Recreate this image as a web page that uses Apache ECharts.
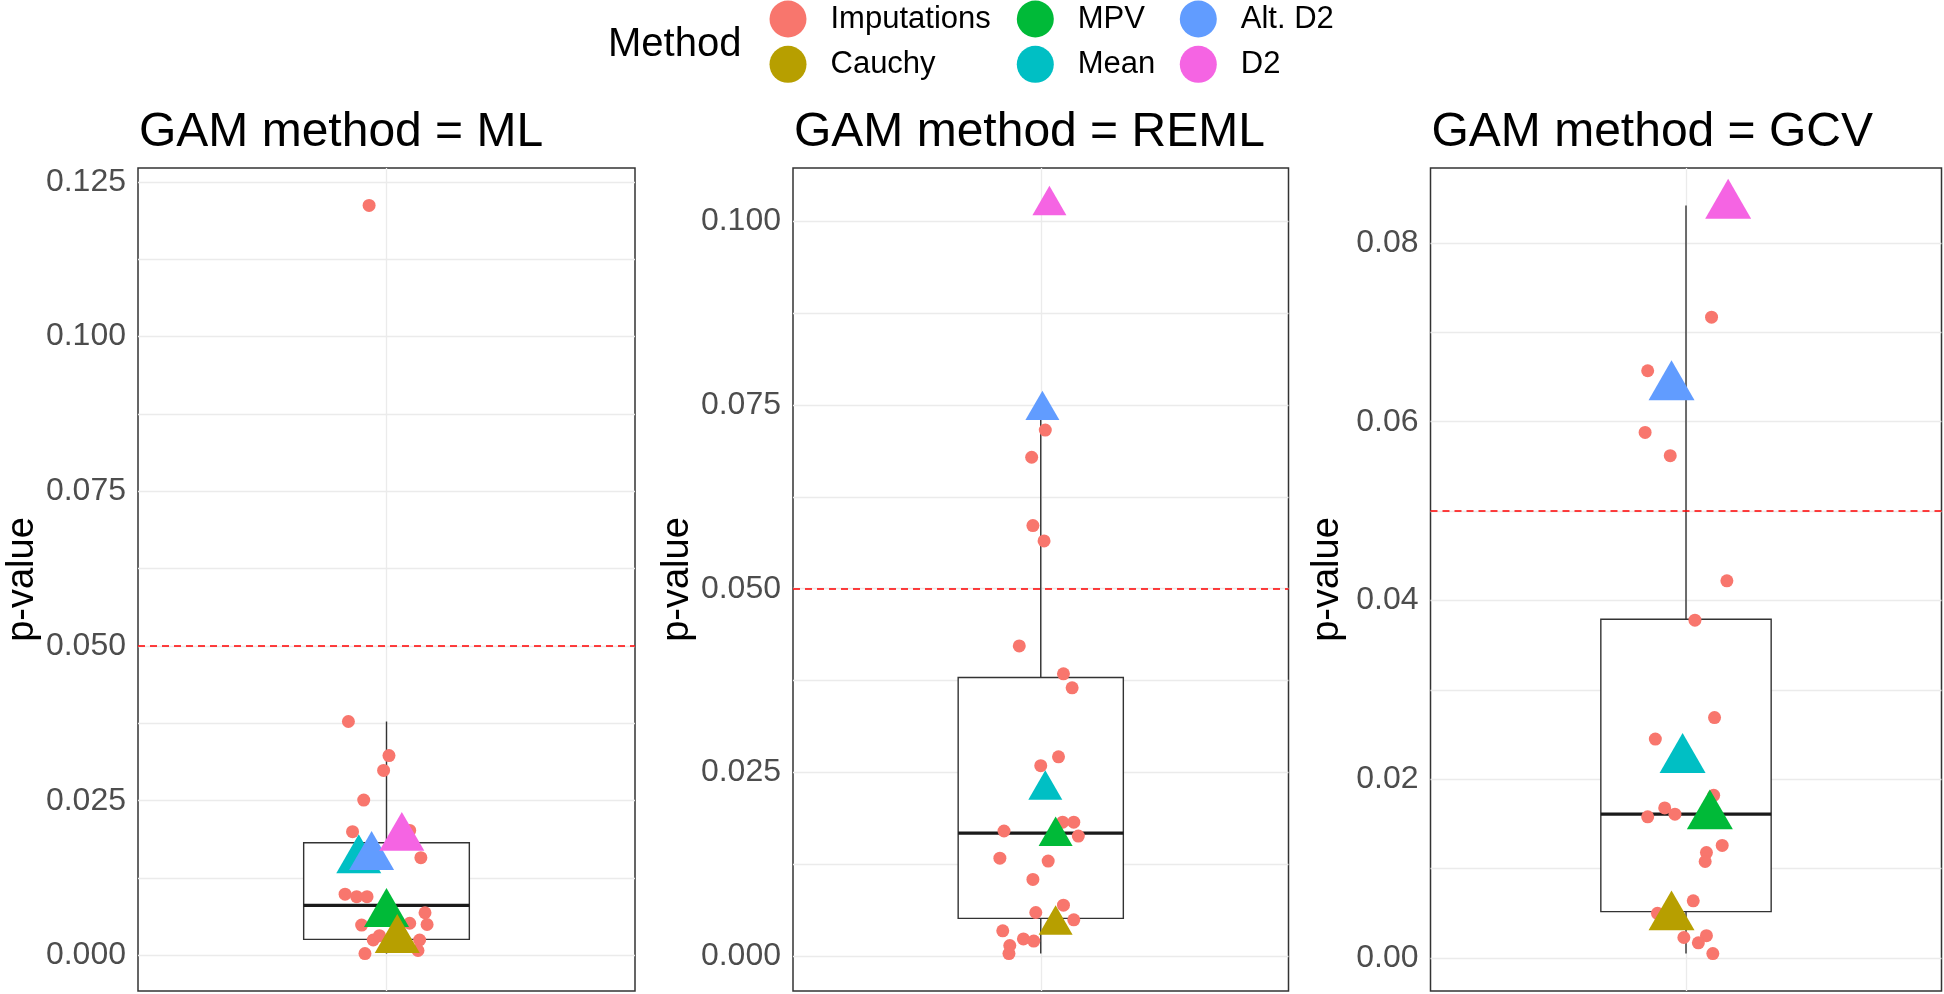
<!DOCTYPE html>
<html>
<head>
<meta charset="utf-8">
<script src="https://cdn.jsdelivr.net/npm/echarts@6/dist/echarts.min.js"></script>
<style>
  html, body { margin: 0; padding: 0; background: #fff; }
  #main { width: 1944px; height: 994px; }
</style>
</head>
<body>
<div id="main"></div>
<script>
// 数据
var methods = ['Imputations', 'Cauchy', 'MPV', 'Mean', 'Alt. D2', 'D2'];
var methodColors = ['#F8766D', '#B79F00', '#00BA38', '#00BFC4', '#619CFF', '#F564E3'];
var panelTitles = ['GAM method = ML', 'GAM method = REML', 'GAM method = GCV'];

// imputation p-values (jittered x around 1)
var mlImpX = [0.958, 0.908, 1.006, 0.993, 0.945, 0.918, 1.056, 1.083, 0.900, 0.928, 0.953, 1.093, 1.098, 0.940, 1.056, 0.968, 0.983, 1.080, 1.076, 0.948];
var mlImpY = [0.1212, 0.0378, 0.0323, 0.0299, 0.0251, 0.0200, 0.0202, 0.0158, 0.0099, 0.0095, 0.0095, 0.0069, 0.0050, 0.0049, 0.0052, 0.0025, 0.0032, 0.0025, 0.0008, 0.0003];
var remlImpX = [1.011, 0.978, 0.981, 1.008, 0.948, 1.055, 1.076, 1.043, 1.000, 0.911, 1.053, 1.080, 1.091, 0.901, 1.018, 0.981, 1.055, 0.988, 1.080, 0.908, 0.958, 0.983, 0.925, 0.923];
var remlImpY = [0.0716, 0.0679, 0.0586, 0.0565, 0.0422, 0.0384, 0.0365, 0.0271, 0.0259, 0.0170, 0.0182, 0.0182, 0.0163, 0.0133, 0.0129, 0.0104, 0.0069, 0.0059, 0.0049, 0.0034, 0.0023, 0.0020, 0.0014, 0.0003];
var gcvImpX = [1.060, 0.910, 0.904, 0.963, 1.096, 1.021, 1.067, 0.928, 1.065, 0.950, 0.910, 0.974, 1.085, 1.048, 1.045, 1.017, 0.933, 0.995, 1.048, 1.029, 1.063];
var gcvImpY = [0.0717, 0.0657, 0.0588, 0.0562, 0.0422, 0.0378, 0.0269, 0.0245, 0.0182, 0.0168, 0.0158, 0.0161, 0.0126, 0.0118, 0.0108, 0.0064, 0.0050, 0.0023, 0.0025, 0.0017, 0.0005];

// boxplot of imputations: [q1, median, q3, lower whisker, upper whisker]
var mlBox = [0.0026, 0.0081, 0.0182, 0.0003, 0.0378];
var remlBox = [0.0051, 0.0167, 0.0379, 0.0003, 0.0735];
var gcvBox = [0.0052, 0.0161, 0.0379, 0.0005, 0.0842];

// combined p-values per method, [ML, REML, GCV]
var cauchyY = [0.0025, 0.0042, 0.0046], cauchyX = [1.026, 1.036, 0.966];
var mpvY = [0.0067, 0.0163, 0.0159], mpvX = [1.000, 1.036, 1.056];
var meanY = [0.0154, 0.0226, 0.0222], meanX = [0.933, 1.011, 0.992];
var altD2Y = [0.0159, 0.0743, 0.0639], altD2X = [0.964, 1.004, 0.966];
var d2Y = [0.0190, 0.1022, 0.0842], d2X = [1.037, 1.021, 1.099];

// y axis ticks
var mlTicks = [0, 0.025, 0.05, 0.075, 0.1, 0.125];
var remlTicks = [0, 0.025, 0.05, 0.075, 0.1];
var gcvTicks = [0, 0.02, 0.04, 0.06, 0.08];
var mlMinor = [0.0125, 0.0375, 0.0625, 0.0875, 0.1125];
var remlMinor = [0.0125, 0.0375, 0.0625, 0.0875];
var gcvMinor = [0.01, 0.03, 0.05, 0.07];
var tickDecimals = [3, 3, 2];
var cutoff = 0.05;

// 布局
var FONT = '"Liberation Sans", Arial, sans-serif';
var grids = [
  { left: 138, right: 1309, top: 168, bottom: 3 },
  { left: 793, right: 655.5, top: 168, bottom: 3 },
  { left: 1430.5, right: 2.5, top: 168, bottom: 3 }
];
var nameGaps = [96, 96, 84];
var triWidth = [45, 34, 46];

var impX = [mlImpX, remlImpX, gcvImpX];
var impY = [mlImpY, remlImpY, gcvImpY];
var boxes = [mlBox, remlBox, gcvBox];
var ticks = [mlTicks, remlTicks, gcvTicks];
var minors = [mlMinor, remlMinor, gcvMinor];
// draw order of triangles
var triOrder = [
  { name: 'Mean', x: meanX, y: meanY },
  { name: 'Alt. D2', x: altD2X, y: altD2Y },
  { name: 'D2', x: d2X, y: d2Y },
  { name: 'MPV', x: mpvX, y: mpvY },
  { name: 'Cauchy', x: cauchyX, y: cauchyY }
];

function colorOf(name) { return methodColors[methods.indexOf(name)]; }

function renderBox(params, api) {
  var x = api.value(0);
  var q1 = api.value(1), med = api.value(2), q3 = api.value(3), lo = api.value(4), hi = api.value(5);
  var hw = 0.2;
  var tl = api.coord([x - hw, q3]), br = api.coord([x + hw, q1]);
  var pHi = api.coord([x, hi]), pQ3 = api.coord([x, q3]);
  var pLo = api.coord([x, lo]), pQ1 = api.coord([x, q1]);
  var mL = api.coord([x - hw, med]), mR = api.coord([x + hw, med]);
  var st = { stroke: '#333333', lineWidth: 1.4, fill: null };
  return {
    type: 'group',
    children: [
      { type: 'line', shape: { x1: pHi[0], y1: pHi[1], x2: pQ3[0], y2: pQ3[1] }, style: st },
      { type: 'line', shape: { x1: pLo[0], y1: pLo[1], x2: pQ1[0], y2: pQ1[1] }, style: st },
      { type: 'rect', shape: { x: tl[0], y: tl[1], width: br[0] - tl[0], height: br[1] - tl[1] },
        style: { fill: '#ffffff', stroke: '#333333', lineWidth: 1.4 } },
      { type: 'line', shape: { x1: mL[0], y1: mL[1], x2: mR[0], y2: mR[1] }, style: { stroke: '#1a1a1a', lineWidth: 3.2 } }
    ]
  };
}

var xAxes = [], yAxes = [], series = [], graphics = [];

for (var i = 0; i < 3; i++) {
  // ggplot style 5% expansion of the data range
  var all = impY[i].concat([boxes[i][3], boxes[i][4]]);
  triOrder.forEach(function (t) { all.push(t.y[i]); });
  var lo = Math.min.apply(null, all), hi = Math.max.apply(null, all);
  var pad = (hi - lo) * 0.05;

  xAxes.push({
    gridIndex: i, type: 'value', min: 0.4, max: 1.6,
    axisLine: { show: false }, axisLabel: { show: false },
    axisTick: { show: false, customValues: [1] },
    splitLine: { show: true, lineStyle: { color: '#ebebeb', width: 1.3 } }
  });
  (function (dec) {
    yAxes.push({
      gridIndex: i, type: 'value', min: lo - pad, max: hi + pad,
      axisLine: { show: false },
      axisTick: { show: false, customValues: ticks[i].concat(minors[i]) },
      axisLabel: {
        customValues: ticks[i], fontSize: 32, color: '#4d4d4d', margin: 12, fontFamily: FONT,
        formatter: function (v) { return Number(v).toFixed(dec); }
      },
      splitLine: { show: true, lineStyle: { color: '#ebebeb', width: 1.3 } },
      name: 'p-value', nameLocation: 'middle', nameRotate: 90, nameGap: nameGaps[i],
      nameTextStyle: { fontSize: 38, color: '#000', fontFamily: FONT }
    });
  })(tickDecimals[i]);

  var b = boxes[i];
  series.push({
    type: 'custom', name: 'box' + i, xAxisIndex: i, yAxisIndex: i, z: 2,
    renderItem: renderBox, encode: { x: 0, y: [1, 2, 3, 4, 5] },
    data: [[1, b[0], b[1], b[2], b[3], b[4]]], silent: true
  });

  series.push({
    type: 'scatter', name: 'Imputations', xAxisIndex: i, yAxisIndex: i, z: 3,
    symbol: 'circle', symbolSize: 13,
    itemStyle: { color: colorOf('Imputations'), opacity: 1 },
    data: impX[i].map(function (x, k) { return [x, impY[i][k]]; }),
    markLine: {
      silent: true, symbol: 'none', label: { show: false },
      lineStyle: { color: '#ff0000', type: [7, 5], width: 1.5 },
      data: [{ yAxis: cutoff }]
    }
  });

  var w = triWidth[i], h = w * 0.866;
  triOrder.forEach(function (t) {
    series.push({
      type: 'scatter', name: t.name, xAxisIndex: i, yAxisIndex: i, z: 4,
      symbol: 'triangle', symbolSize: [w, h], symbolOffset: [0, -h / 6],
      itemStyle: { color: colorOf(t.name), opacity: 1 },
      data: [[t.x[i], t.y[i]]]
    });
  });

  graphics.push({
    type: 'text', x: grids[i].left + 1, y: 133,
    style: { text: panelTitles[i], font: '48px ' + FONT, fill: '#000', verticalAlign: 'middle' }
  });
}

graphics.push({
  type: 'text', x: 608, y: 45,
  style: { text: 'Method', font: '40px ' + FONT, fill: '#000', verticalAlign: 'middle' }
});

function legendCol(left, names) {
  return {
    left: left, top: 0.5, padding: 0, orient: 'vertical', icon: 'circle',
    itemWidth: 37, itemHeight: 37, itemGap: 8.3, selectedMode: false,
    data: names,
    textStyle: { fontSize: 31, color: '#000', fontFamily: FONT, padding: [0, 0, 0, 19] }
  };
}

var myChart = echarts.init(document.getElementById('main'));
var option = {
  backgroundColor: '#fff',
  animation: false,
  grid: grids.map(function (g) {
    return { left: g.left, right: g.right, top: g.top, bottom: g.bottom, show: true,
      borderColor: '#333333', borderWidth: 1.5, backgroundColor: 'transparent' };
  }),
  legend: [
    legendCol(769.5, ['Imputations', 'Cauchy']),
    legendCol(1016.8, ['MPV', 'Mean']),
    legendCol(1179.8, ['Alt. D2', 'D2'])
  ],
  xAxis: xAxes,
  yAxis: yAxes,
  graphic: graphics,
  series: series
};
myChart.setOption(option, true);
</script>
</body>
</html>
